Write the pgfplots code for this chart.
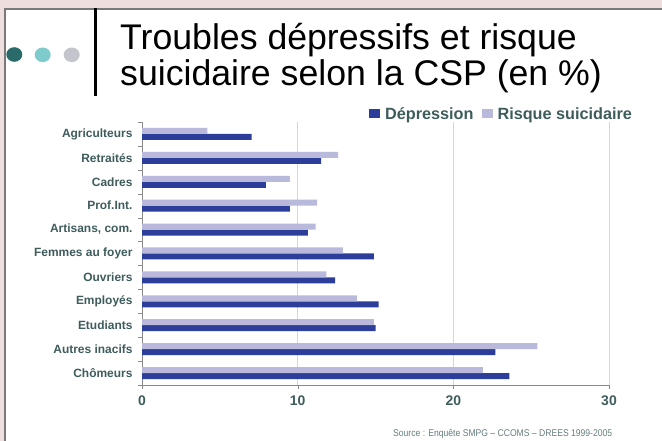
\documentclass[border=0pt]{standalone}
\usepackage{pgfplots}
\pgfplotsset{compat=1.18}
\usepackage{fontspec}
\setmainfont{Liberation Sans}
\definecolor{pinkbg}{HTML}{EEDEDE}
\definecolor{framegray}{HTML}{7A7A7A}
\definecolor{depblue}{HTML}{2D3E9A}
\definecolor{risklav}{HTML}{B9B9DB}
\definecolor{labcol}{HTML}{3F5C5C}
\definecolor{dotA}{HTML}{2B6A6A}
\definecolor{dotB}{HTML}{7FCACA}
\definecolor{dotC}{HTML}{C4C4CC}
\definecolor{gridc}{HTML}{D6D6D6}
\definecolor{axc}{HTML}{8A8A8A}
\begin{document}
\begin{tikzpicture}
\path[use as bounding box] (0bp,0bp) rectangle (662bp,441bp);
\fill[pinkbg] (0bp,0bp) rectangle (662bp,441bp);
\filldraw[fill=white,draw=framegray,line width=2bp] (5bp,-10bp) rectangle (675bp,432bp);
% dots
\fill[dotA] (14.3bp,386.5bp) ellipse [x radius=8bp, y radius=7.3bp];
\fill[dotB] (42.7bp,386.2bp) ellipse [x radius=8bp, y radius=7.3bp];
\fill[dotC] (71.7bp,386.2bp) ellipse [x radius=8bp, y radius=7.3bp];
% vertical bar
\fill[black] (93.5bp,345bp) rectangle (96.5bp,433bp);
% title
\node[anchor=base west,inner sep=0,font=\fontsize{35.8}{36}\selectfont] at (120bp,391bp) {Troubles dépressifs et risque};
\node[anchor=base west,inner sep=0,font=\fontsize{35.8}{36}\selectfont] at (120bp,355bp) {suicidaire selon la CSP (en \%)};
% source
\node[anchor=base west,inner sep=0,text=labcol!80!white,font=\fontsize{9.8}{10}\selectfont] at (393bp,5bp) {\scalebox{0.88}[1]{Source : Enquête SMPG – CCOMS – DREES 1999-2005}};
\begin{axis}[
  at={(142bp,56bp)}, anchor=south west,
  scale only axis, width=467bp, height=263bp,
  xmin=0, xmax=30, ymin=-0.5, ymax=10.5,
  xbar, bar width=6bp,
  axis x line*=bottom, axis y line*=left,
  axis line style={axc, line width=0.8bp},
  xtick={0,10,20,30},
  xmajorgrids, grid style={gridc, line width=0.6bp},
  major x tick style={axc},
  tick align=outside,
  major tick length=4bp,
  ytick={0,...,10},
  yticklabels={Chômeurs,Autres inacifs,Etudiants,Employés,Ouvriers,Femmes au foyer,Artisans{,} com.,Prof.Int.,Cadres,Retraités,Agriculteurs},
  major y tick style={draw=none},
  minor ytick={-0.5,0.5,...,10.5},
  minor y tick style={axc},
  minor tick length=4bp,
  /pgf/number format/assume math mode=true,
  yticklabel style={text=labcol, font=\fontsize{12}{12}\selectfont\bfseries, xshift=-2bp},
  xticklabel style={text=labcol, font=\fontsize{14}{14}\selectfont\bfseries, yshift=-3bp},
  legend columns=2,
  legend style={at={(1.054,0.997)}, anchor=south east, draw=none, fill=none, inner sep=0pt,
     font=\fontsize{16.3}{16}\selectfont\bfseries, text=labcol,
     /tikz/every even column/.append style={column sep=6bp}},
  legend image code/.code={\fill[#1] (0bp,-4.5bp) rectangle (11bp,5bp); \path (14bp,0bp);},
]
\addplot[fill=depblue, draw=none, bar shift=-3bp] coordinates {
 (23.6,0) (22.7,1) (15.0,2) (15.2,3) (12.4,4) (14.9,5) (10.65,6) (9.5,7) (7.95,8) (11.5,9) (7.05,10)};
\addlegendentry{Dépression}
\addplot[fill=risklav, draw=none, bar shift=3bp] coordinates {
 (21.9,0) (25.4,1) (14.9,2) (13.8,3) (11.85,4) (12.9,5) (11.15,6) (11.25,7) (9.5,8) (12.6,9) (4.2,10)};
\addlegendentry{Risque suicidaire}
\end{axis}
\end{tikzpicture}
\end{document}
